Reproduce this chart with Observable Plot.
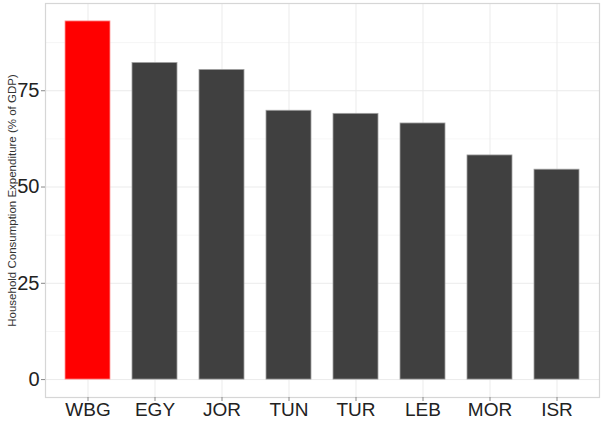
<!DOCTYPE html>
<html>
<head>
<meta charset="utf-8">
<script src="https://cdn.jsdelivr.net/npm/d3@7"></script>
<script src="https://cdn.jsdelivr.net/npm/@observablehq/plot@0.6"></script>
<style>
  html, body { margin: 0; padding: 0; background: #fff; }
  #chart svg { display: block; }
</style>
</head>
<body>
<div id="chart"></div>
<script>
const countries = ["WBG", "EGY", "JOR", "TUN", "TUR", "LEB", "MOR", "ISR"];
const values = [93.0, 82.2, 80.4, 69.8, 69.0, 66.5, 58.2, 54.5];
const highlight = ["WBG"];
const yTicks = [0, 25, 50, 75];
const yMinor = [12.5, 37.5, 62.5, 87.5];
const yTitle = "Household Consumption Expenditure (% of GDP)";

const data = countries.map((c, i) => ({country: c, value: values[i]}));

const chart = Plot.plot({
  width: 603,
  height: 421,
  marginLeft: 45,
  marginRight: 4,
  marginTop: 3,
  marginBottom: 24,
  style: {fontFamily: "'Liberation Sans', Arial, sans-serif", background: "#fff"},
  x: {domain: countries, paddingInner: 0.333, paddingOuter: 0.267, label: null},
  y: {domain: [-4.65, 97.65], label: null},
  marks: [
    Plot.ruleY(yMinor, {stroke: "#f4f4f4", strokeWidth: 0.8}),
    Plot.ruleY(yTicks, {stroke: "#ebebeb", strokeWidth: 1}),
    Plot.ruleX(countries, {x: d => d, stroke: "#ebebeb", strokeWidth: 1}),
    Plot.barY(data, {
      x: "country",
      y: "value",
      fill: d => highlight.includes(d.country) ? "#ff0000" : "#404040",
      stroke: d => highlight.includes(d.country) ? "#ff9a9a" : "#a0a0a0",
      strokeWidth: 0.8
    }),
    Plot.frame({stroke: "#d6d6d6", strokeWidth: 1.2}),
    Plot.axisY({ticks: yTicks, tickSize: 4, tickPadding: 2, fontSize: 20, stroke: "#888", color: "#222", label: null}),
    Plot.axisX({tickSize: 4, tickPadding: 1, fontSize: 19, stroke: "#888", color: "#222", label: null}),
    Plot.text([yTitle], {frameAnchor: "left", textAnchor: "middle", rotate: -90, dx: -33, fontSize: 11.5, fill: "#333"})
  ]
});
document.getElementById("chart").appendChild(chart);
</script>
</body>
</html>
